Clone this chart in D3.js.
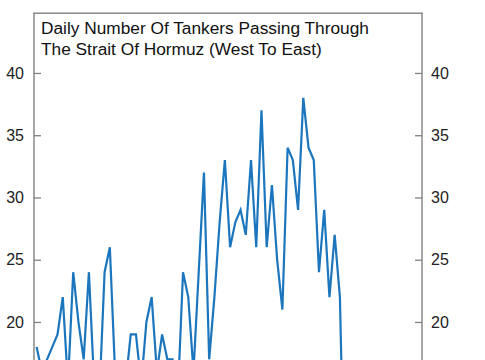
<!DOCTYPE html>
<html>
<head>
<meta charset="utf-8">
<script src="https://cdn.jsdelivr.net/npm/d3@7"></script>
<style>
  html, body { margin: 0; padding: 0; background: #fff; overflow: hidden; }
  #chart { width: 485px; height: 360px; }
</style>
</head>
<body>
<div id="chart"></div>
<script>
// daily tanker counts, one value per day (index = day)
const tankers = [
  18, 16, 17, 18, 19, 22, 15, 24, 20, 17,
  24, 15, 14, 24, 26, 16, 13, 15, 19, 19,
  15, 20, 22, 16, 19, 17, 17, 14, 24, 22,
  16, 24, 32, 17, 22, 28, 33, 26, 28, 29,
  27, 33, 26, 37, 26, 31, 25, 21, 34, 33,
  29, 38, 34, 33, 24, 29, 22, 27, 22, 3,
  1, 2, 1, 2, 1
];
// only the ticks that fall inside the visible window
const yTicks = [20, 25, 30, 35, 40];
const titleLines = [
  'Daily Number Of Tankers Passing Through',
  'The Strait Of Hormuz (West To East)'
];

const width = 485;
const height = 360;
const box = { left: 34, right: 422, top: 13.2 };

const svg = d3.select('#chart')
  .append('svg')
  .attr('width', width)
  .attr('height', height)
  .style('font-family', '"Liberation Sans", Arial, sans-serif');

const x = d3.scaleLinear().domain([-0.5, 73.7]).range([box.left, box.right]);
const y = d3.scaleLinear().domain([0, 44.8]).range([571, box.top]);

// EJES
const axisColor = '#808080';

const left = svg.append('g')
  .attr('transform', `translate(${box.left},0)`)
  .call(d3.axisLeft(y).tickValues(yTicks).tickSize(-7).tickPadding(10));

const right = svg.append('g')
  .attr('transform', `translate(${box.right},0)`)
  .call(d3.axisRight(y).tickValues(yTicks).tickSize(-7).tickPadding(9));

[left, right].forEach((g) => {
  g.select('.domain').remove();
  g.selectAll('line').attr('stroke', axisColor).attr('stroke-width', 1.3);
  g.selectAll('text')
    .attr('fill', '#222')
    .style('font-size', '16px')
    .style('font-family', '"Liberation Sans", Arial, sans-serif');
});

// MARCO
svg.append('rect')
  .attr('x', box.left)
  .attr('y', box.top)
  .attr('width', box.right - box.left)
  .attr('height', y(0) - box.top)
  .attr('fill', 'none')
  .attr('stroke', axisColor)
  .attr('stroke-width', 1.4);

// LINEA
const line = d3.line()
  .x((d, i) => x(i))
  .y((d) => y(d));

svg.append('path')
  .datum(tankers)
  .attr('d', line)
  .attr('fill', 'none')
  .attr('stroke', '#1b76bd')
  .attr('stroke-width', 2.2)
  .attr('stroke-linejoin', 'miter');

// TITULO
svg.append('text')
  .attr('x', 41)
  .attr('y', 33.5)
  .attr('fill', '#111')
  .style('font-size', '17.3px')
  .selectAll('tspan')
  .data(titleLines)
  .enter()
  .append('tspan')
  .attr('x', 41)
  .attr('dy', (d, i) => (i === 0 ? 0 : 21))
  .text((d) => d);
</script>
</body>
</html>
